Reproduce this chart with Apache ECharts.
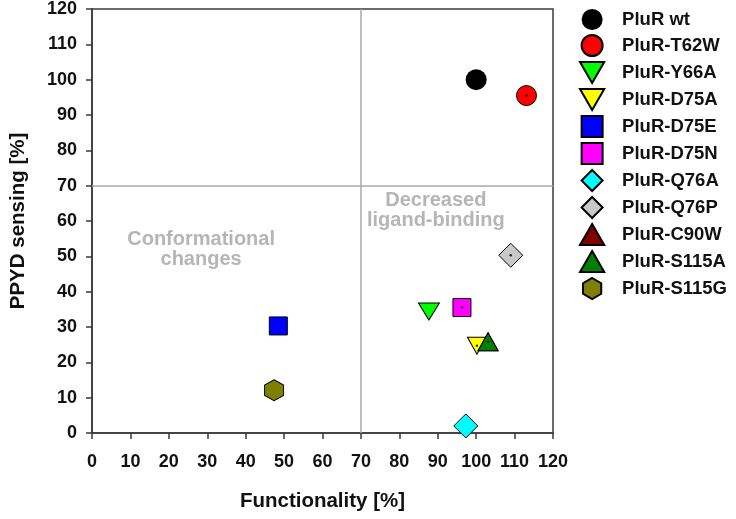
<!DOCTYPE html>
<html>
<head>
<meta charset="utf-8">
<script src="https://cdn.jsdelivr.net/npm/echarts@6/dist/echarts.min.js"></script>
<style>
html,body{margin:0;padding:0;background:#fff;}
#chart{width:736px;height:519px;}
</style>
</head>
<body>
<div id="chart"></div>
<script>
// ---- data ----
const variantNames = ['PluR wt','PluR-T62W','PluR-Y66A','PluR-D75A','PluR-D75E','PluR-D75N','PluR-Q76A','PluR-Q76P','PluR-C90W','PluR-S115A','PluR-S115G'];
const functionality = [100, 113.1, 87.7, 100.2, 48.5, 96.3, 97.3, 109.0, 103.1, 103.1, 47.4];
const ppydSensing   = [100, 95.5, 34.4, 24.7, 30.3, 35.5, 2.0, 50.3, 25.8, 25.8, 12.1];
const hasCenterDot  = [false, true, false, true, false, true, false, true, false, true, false];
const axisTicks = [0,10,20,30,40,50,60,70,80,90,100,110,120];
const thresholdX = [70];
const thresholdY = [70];
const regionLabels = ['Conformational\nchanges', 'Decreased\nligand-binding'];
const regionLabelX = [28.4, 89.5];
const regionLabelY = [51.8, 63.0];

// ---- styles ----
const HEX = 'path://M0,-1 L0.866,-0.5 L0.866,0.5 L0,1 L-0.866,0.5 L-0.866,-0.5 Z';
const TRI_DOWN = 'path://M0,0 L2,0 L1,1.732 Z';
const TRI_UP = 'path://M1,0 L2,1.732 L0,1.732 Z';
const SQUARE = 'path://M0,0 L1,0 L1,1 L0,1 Z';
const DIAMOND = 'path://M1,0 L2,1 L1,2 L0,1 Z';
const styles = [
  {color:'#000000', symbol:'circle', size:21, border:0},
  {color:'#ff0000', symbol:'circle', size:20, border:1},
  {color:'#00ff00', symbol:TRI_DOWN, size:[21,17], border:1},
  {color:'#ffff00', symbol:TRI_DOWN, size:[19,17], border:1},
  {color:'#0000ff', symbol:SQUARE, size:18, border:1},
  {color:'#ff00ff', symbol:SQUARE, size:18, border:1},
  {color:'#00ffff', symbol:DIAMOND, size:24, border:1},
  {color:'#c8c8c8', symbol:DIAMOND, size:24, border:1},
  {color:'#800000', symbol:TRI_UP, size:[20,18], border:1},
  {color:'#008000', symbol:TRI_UP, size:[20,18], border:1},
  {color:'#808000', symbol:HEX, size:[19,21], border:1}
];

const FONT = '"Liberation Sans", Arial, Helvetica, sans-serif';
const chart = echarts.init(document.getElementById('chart'), null, {renderer:'canvas'});

const series = variantNames.map((n, i) => {
  const s = styles[i];
  const ser = {
    name: n,
    type: 'scatter',
    data: [[functionality[i], ppydSensing[i]]],
    symbol: s.symbol,
    symbolSize: s.size,
    itemStyle: {color: s.color, borderColor: '#000', borderWidth: s.border, opacity: 1},
    z: 3 + i * 0.01
  };
  if (i === 0) {
    ser.markLine = {
      silent: true,
      symbol: ['none','none'],
      label: {show:false},
      lineStyle: {color:'#a8a8a8', width:1.5, type:'solid'},
      z: 1,
      data: thresholdX.map(v => ({xAxis: v})).concat(thresholdY.map(v => ({yAxis: v})))
    };
  }
  return ser;
});

// center dots
series.push({
  name: 'dots',
  type: 'scatter',
  silent: true,
  symbol: 'circle',
  symbolSize: 2.5,
  itemStyle: {color:'#000'},
  z: 4,
  data: functionality.map((x, i) => hasCenterDot[i] ? [x, ppydSensing[i]] : null).filter(d => d)
});

// region labels
series.push({
  name: 'regions',
  type: 'scatter',
  silent: true,
  symbolSize: 0,
  z: 2,
  data: regionLabels.map((t, i) => ({value: [regionLabelX[i], regionLabelY[i]], label: t})),
  label: {
    show: true,
    position: 'inside',
    formatter: p => p.data.label,
    color: '#a3a3a3',
    fontFamily: FONT,
    fontWeight: 'bold',
    fontSize: 20,
    lineHeight: 20,
    align: 'center',
    verticalAlign: 'middle'
  }
});

const axisCommon = {
  type: 'value',
  min: 0, max: 120, interval: 10,
  nameLocation: 'middle',
  nameTextStyle: {fontFamily: FONT, fontWeight:'bold', fontSize: 20.5, color:'#111'},
  axisLine: {show:true, onZero:false, lineStyle:{color:'#3a3a3a', width:1.5}},
  axisTick: {show:true, inside:false, length:6, lineStyle:{color:'#3a3a3a', width:1.5}},
  axisLabel: {fontFamily: FONT, fontWeight:'bold', fontSize:18, color:'#111',
              formatter: v => axisTicks.includes(v) ? String(v) : ''},
  splitLine: {show:false}
};

chart.setOption({
  animation: false,
  backgroundColor: '#fff',
  grid: {left: 88, right: 183, top: 8, bottom: 86, show: true, borderColor:'#3a3a3a', borderWidth:1.5, backgroundColor:'transparent'},
  xAxis: Object.assign({}, axisCommon, {name: 'Functionality [%]', nameGap: 58,
    axisLabel: Object.assign({}, axisCommon.axisLabel, {margin: 20})}),
  yAxis: Object.assign({}, axisCommon, {name: 'PPYD sensing [%]', nameGap: 63,
    axisLabel: Object.assign({}, axisCommon.axisLabel, {margin: 15})}),
  legend: {
    data: variantNames,
    orient: 'vertical',
    left: 574, top: 4,
    itemWidth: 50, itemHeight: 21, itemGap: 4,
    symbolKeepAspect: true,
    textStyle: {fontFamily: FONT, fontWeight:'bold', fontSize:18.5, color:'#111'},
    selectedMode: false
  },
  series: series
});
</script>
</body>
</html>
